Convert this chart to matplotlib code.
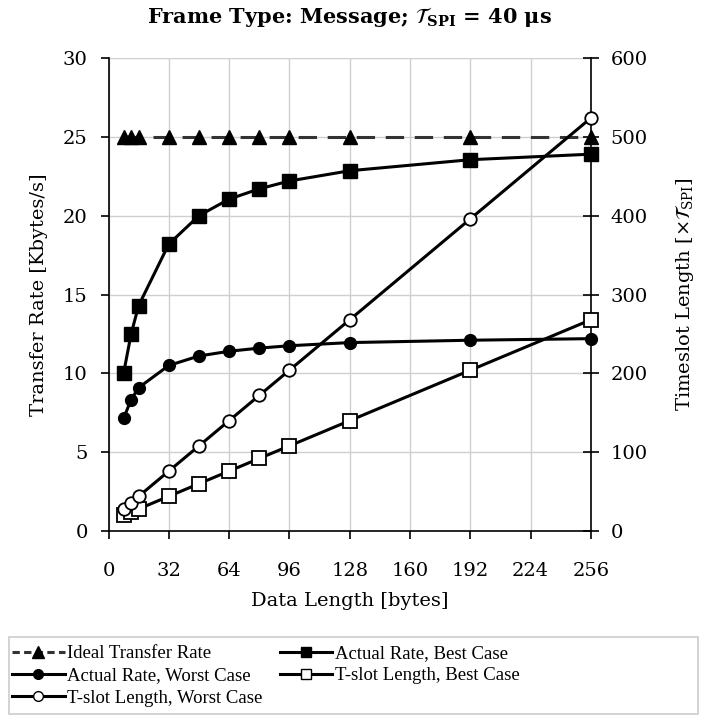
import numpy as np
import matplotlib.pyplot as plt
from matplotlib.lines import Line2D
from matplotlib.patches import Rectangle

# data length in bytes
data_len = [8, 12, 16, 32, 48, 64, 80, 96, 128, 192, 256]

# transfer rates [Kbytes/s] (left axis)
ideal_rate = [25, 25, 25, 25, 25, 25, 25, 25, 25, 25, 25]
rate_best = [10.0, 12.5, 14.3, 18.2, 20.0, 21.05, 21.7, 22.2, 22.85, 23.55, 23.9]
rate_worst = [7.14, 8.33, 9.09, 10.5, 11.1, 11.4, 11.6, 11.75, 11.95, 12.1, 12.2]

# timeslot length [x T_SPI] (right axis)
tslot_best = [20, 24, 28, 44, 60, 76, 92, 108, 140, 204, 268]
tslot_worst = [28, 36, 44, 76, 108, 140, 172, 204, 268, 396, 524]

x_ticks = [0, 32, 64, 96, 128, 160, 192, 224, 256]

plt.rcParams['font.family'] = 'DejaVu Serif'
plt.rcParams['mathtext.fontset'] = 'dejavuserif'

fig = plt.figure(figsize=(7.02, 7.15), dpi=100)
ax = fig.add_axes([108.5 / 702, 1 - 531 / 715, (591 - 108.5) / 702, (531 - 58) / 715])
ax2 = ax.twinx()

fs = 14
lw = 2.2

ax.plot(data_len, ideal_rate, color='#333333', lw=lw, dashes=(6, 3.5),
        marker='^', ms=10, mfc='black', mec='black', clip_on=False, zorder=3)
ax.plot(data_len, rate_best, color='black', lw=lw, marker='s', ms=9.5,
        mfc='black', mec='black', clip_on=False, zorder=3)
ax.plot(data_len, rate_worst, color='black', lw=lw, marker='o', ms=8.5,
        mfc='black', mec='black', clip_on=False, zorder=3)
ax2.plot(data_len, tslot_best, color='black', lw=lw, marker='s', ms=9.5,
         mfc='white', mec='black', mew=1.3, clip_on=False, zorder=3)
ax2.plot(data_len, tslot_worst, color='black', lw=lw, marker='o', ms=9,
         mfc='white', mec='black', mew=1.3, clip_on=False, zorder=3)

ax.set_xlim(0, 256)
ax.set_ylim(0, 30)
ax2.set_ylim(0, 600)
ax.set_xticks(x_ticks)
ax.set_yticks(np.arange(0, 31, 5))
ax2.set_yticks(np.arange(0, 601, 100))

ax.grid(True, color='#cfcfcf', lw=1.0)
ax.set_axisbelow(True)

for a in (ax, ax2):
    a.spines['top'].set_visible(False)
    for s in a.spines.values():
        s.set_linewidth(1.2)
ax.spines['right'].set_visible(False)
ax2.spines['left'].set_visible(False)
ax2.spines['bottom'].set_visible(False)

ax.tick_params(axis='y', direction='out', length=6, width=1.2, pad=9, labelsize=fs)
ax.tick_params(axis='x', direction='out', length=6, width=1.2, pad=16, labelsize=fs)
ax2.tick_params(axis='y', direction='inout', length=12, width=1.2, pad=8, labelsize=fs)

ax.set_xlabel('Data Length [bytes]', fontsize=fs, labelpad=9)
ax.set_ylabel('Transfer Rate [Kbytes/s]', fontsize=fs, labelpad=11)
ax2.set_ylabel(r'Timeslot Length [$\times\mathcal{T}_{\mathrm{SPI}}$]', fontsize=fs,
               rotation=90, labelpad=18)
ax.set_title(r'Frame Type: Message; $\mathbfit{\mathcal{T}}_{\mathbf{SPI}}$ = 40 μs',
             fontsize=15, fontweight='bold', pad=25)

handles = [
    Line2D([], [], color='#333333', lw=lw, dashes=(2.4, 1.4), marker='^', ms=9, mfc='black', mec='black'),
    Line2D([], [], color='black', lw=lw, marker='o', ms=7, mfc='black'),
    Line2D([], [], color='black', lw=lw, marker='o', ms=7, mfc='white', mec='black'),
    Line2D([], [], color='black', lw=lw, marker='s', ms=7, mfc='black'),
    Line2D([], [], color='black', lw=lw, marker='s', ms=7, mfc='white', mec='black'),
]
labels = ['Ideal Transfer Rate', 'Actual Rate, Worst Case', 'T-slot Length, Worst Case',
          'Actual Rate, Best Case', 'T-slot Length, Best Case']
leg = fig.legend(handles, labels, ncol=2, loc='upper left',
                 bbox_to_anchor=(12 / 702, 1 - 645 / 715),
                 prop={'family': 'Liberation Serif', 'size': 13.5},
                 frameon=False, handlelength=2.8, handletextpad=0.15,
                 labelspacing=0.28, columnspacing=0.9, borderpad=0, borderaxespad=0)

# legend box spans the full width under the plot
fig.patches.append(Rectangle((9 / 702, 1 / 715), 689 / 702, (714 - 637) / 715,
                             transform=fig.transFigure, fill=False,
                             edgecolor='#cccccc', lw=1.2))

fig.savefig('out.png', dpi=100)
